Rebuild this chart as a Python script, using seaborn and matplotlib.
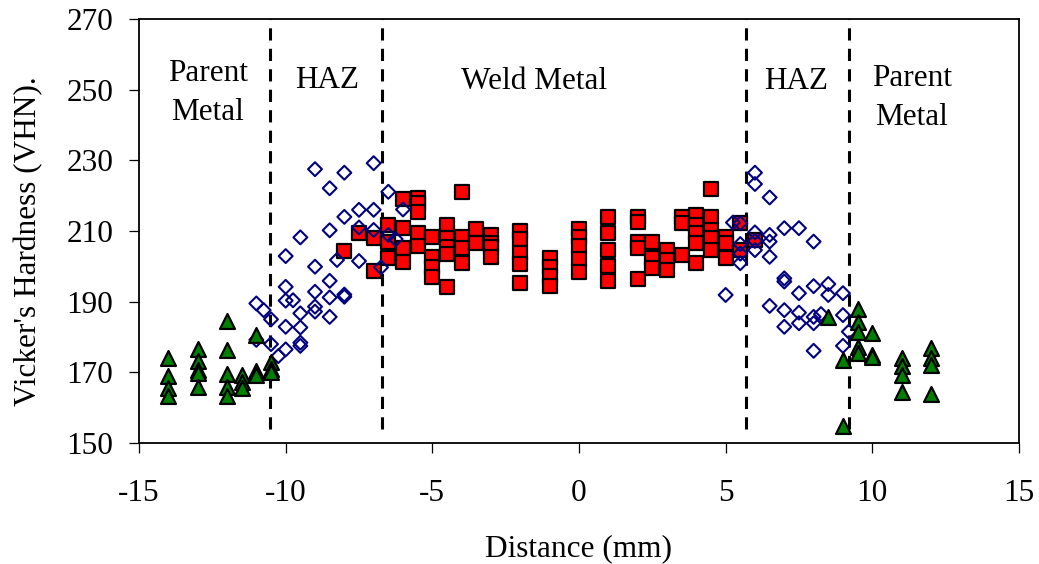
import numpy as np
import pandas as pd
import matplotlib
matplotlib.use('Agg')
import matplotlib.pyplot as plt
import seaborn as sns

# weld metal hardness (red squares)
weld_x = [-8.0, -7.5, -7.0, -7.0, -6.5, -6.5, -6.5,
          -6.0, -6.0, -6.0, -6.0, -5.5, -5.5, -5.5, -5.5, -5.5,
          -5.0, -5.0, -5.0, -5.0, -4.5, -4.5, -4.5, -4.5, -4.5,
          -4.0, -4.0, -4.0, -4.0, -3.5, -3.5, -3.0, -3.0, -3.0, -3.0,
          -2.0, -2.0, -2.0, -2.0, -2.0, -1.0, -1.0, -1.0, -1.0,
          0.0, 0.0, 0.0, 0.0, 0.0, 1.0, 1.0, 1.0, 1.0, 1.0,
          2.0, 2.0, 2.0, 2.0, 2.0, 2.5, 2.5, 2.5, 3.0, 3.0, 3.0,
          3.5, 3.5, 3.5, 4.0, 4.0, 4.0, 4.0, 4.0,
          4.5, 4.5, 4.5, 4.5, 4.5, 5.0, 5.0, 5.0, 5.5, 5.5, 6.0]
weld_hv = [204.3, 209.4, 207.9, 198.8, 211.7, 207.0, 202.3,
           219.0, 210.8, 205.1, 201.3, 219.3, 217.8, 215.5, 209.4, 205.9,
           208.4, 202.7, 199.7, 196.9, 211.7, 207.9, 205.6, 203.5, 194.1,
           220.9, 208.4, 205.1, 200.9, 210.5, 206.7, 208.9, 206.6, 205.6, 202.7,
           210.1, 207.7, 203.7, 200.7, 195.4, 202.3, 199.9, 197.3, 194.4,
           210.5, 208.2, 205.8, 202.0, 198.5, 214.0, 209.4, 204.5, 200.1, 195.9,
           214.0, 212.6, 207.0, 205.1, 196.4, 207.0, 202.3, 199.4, 204.6, 201.8, 199.0,
           214.0, 212.2, 203.2, 214.5, 211.7, 209.5, 206.5, 200.9,
           221.8, 214.0, 210.3, 207.9, 204.6, 208.4, 206.5, 202.3, 212.2, 204.6, 207.5]

# heat affected zone (blue open diamonds)
haz_x = [-11.0, -11.0, -10.75, -10.5, -10.5, -10.25,
         -10.0, -10.0, -10.0, -10.0, -10.0, -9.75,
         -9.5, -9.5, -9.5, -9.5, -9.5, -9.0, -9.0, -9.0, -9.0, -9.0,
         -8.5, -8.5, -8.5, -8.5, -8.5, -8.25, -8.0, -8.0, -8.0, -8.0,
         -7.5, -7.5, -7.5, -7.0, -7.0, -7.0, -6.75, -6.5, -6.5, -6.25, -6.0,
         5.0, 5.25, 5.5, 5.5, 5.5, 5.5, 6.0, 6.0, 6.0, 6.0, 6.0,
         6.5, 6.5, 6.5, 6.5, 6.5, 7.0, 7.0, 7.0, 7.0, 7.0,
         7.5, 7.5, 7.5, 7.5, 8.0, 8.0, 8.0, 8.0, 8.0, 8.25,
         8.5, 8.5, 9.0, 9.0, 9.0, 9.2]
haz_hv = [189.5, 179.2, 187.6, 185.0, 178.0, 174.6,
          202.9, 194.2, 190.3, 182.9, 176.5, 190.4,
          208.2, 186.7, 182.7, 178.4, 177.5, 227.5, 199.9, 192.8, 188.6, 187.2,
          222.1, 210.2, 195.9, 191.2, 185.7, 201.8, 226.5, 214.0, 192.0, 191.4,
          216.0, 211.0, 201.5, 229.2, 216.0, 210.3, 199.7, 221.1, 208.9, 207.7, 216.1,
          191.9, 212.4, 212.2, 206.3, 203.6, 200.9, 226.5, 223.3, 209.6, 207.2, 204.6,
          219.5, 208.9, 207.0, 202.7, 188.8, 210.8, 196.6, 195.7, 187.6, 182.9,
          210.8, 192.4, 186.9, 183.9, 207.0, 194.4, 185.7, 183.9, 176.1, 186.5,
          195.0, 191.9, 192.4, 186.2, 177.5, 181.5]

# parent metal (green triangles)
parent_x = [-14.0, -14.0, -14.0, -14.0, -13.0, -13.0, -13.0, -13.0, -13.0,
            -12.0, -12.0, -12.0, -12.0, -12.0, -11.5, -11.5, -11.5,
            -11.0, -11.0, -11.0, -10.5, -10.5, -10.5,
            8.5, 9.0, 9.0, 9.5, 9.5, 9.5, 9.5, 9.5, 10.0, 10.0, 10.0,
            11.0, 11.0, 11.0, 11.0, 12.0, 12.0, 12.0, 12.0]
parent_hv = [174.0, 169.0, 165.6, 163.3, 176.5, 173.3, 170.7, 169.9, 165.8,
             184.6, 176.3, 169.5, 165.8, 163.3, 169.2, 167.4, 165.5,
             180.6, 170.5, 169.2, 173.0, 171.0, 170.0,
             185.6, 173.5, 154.8, 188.0, 184.3, 181.3, 177.2, 175.4, 181.2, 175.0, 174.4,
             174.0, 171.8, 169.2, 164.5, 177.0, 174.2, 172.1, 163.8]

# zone boundaries and labels
boundaries = [-10.53, -6.72, 5.69, 9.2]
zone_labels = ['Parent\nMetal', 'HAZ', 'Weld Metal', 'HAZ', 'Parent\nMetal']
zone_x = [-12.65, -8.59, -1.53, 7.4, 11.35]
zone_y = [249.1, 252.7, 252.2, 252.2, 247.6]

weld_df = pd.DataFrame({'Distance': weld_x, 'HV': weld_hv})
haz_df = pd.DataFrame({'Distance': haz_x, 'HV': haz_hv})
parent_df = pd.DataFrame({'Distance': parent_x, 'HV': parent_hv})

sns.set_style('ticks')
plt.rcParams['font.family'] = ['Liberation Serif', 'DejaVu Serif']
plt.rcParams['font.size'] = 22.5
plt.rcParams['text.color'] = 'black'
plt.rcParams['axes.labelcolor'] = 'black'
plt.rcParams['axes.unicode_minus'] = False

fig = plt.figure(figsize=(10.39, 5.64), dpi=100)
ax = fig.add_axes([0.1338, 0.2145, 0.8469, 0.7518])

sns.scatterplot(data=weld_df, x='Distance', y='HV', marker='s', s=105,
                color='#FF0000', edgecolor='black', linewidth=1.6, ax=ax, zorder=3)
sns.scatterplot(data=haz_df, x='Distance', y='HV', marker='D', s=50,
                facecolor='none', edgecolor='#000080', linewidth=1.5, ax=ax, zorder=4)
sns.scatterplot(data=parent_df, x='Distance', y='HV', marker='^', s=115,
                color='#008000', edgecolor='black', linewidth=1.6, ax=ax, zorder=5)

ax.vlines(boundaries, 154, 270, colors='black', linewidth=2.2,
          linestyles=(0, (4.0, 2.7)), zorder=2)

for lab, tx, ty in zip(zone_labels, zone_x, zone_y):
    ax.text(tx, ty, lab, ha='center', va='center', fontsize=22.5, linespacing=1.45)

ax.set_xlim(-15, 15)
ax.set_ylim(150, 270)
ax.set_xticks(np.arange(-15, 16, 5))
ax.set_yticks(np.arange(150, 271, 20))
ax.tick_params(direction='out', length=7, width=0.9, labelsize=22.5, colors='black')
ax.tick_params(axis='y', pad=11.5)
ax.tick_params(axis='x', pad=19)
for sp in ax.spines.values():
    sp.set_visible(True)
    sp.set_color('black')
    sp.set_linewidth(1.3)

ax.set_xlabel('Distance (mm)', fontsize=22.5)
ax.set_ylabel("Vicker's Hardness (VHN).", fontsize=22.5)
ax.xaxis.set_label_coords(0.5, -0.215)
ax.yaxis.set_label_coords(-0.109, 0.475)

fig.savefig('out.png', dpi=100)
